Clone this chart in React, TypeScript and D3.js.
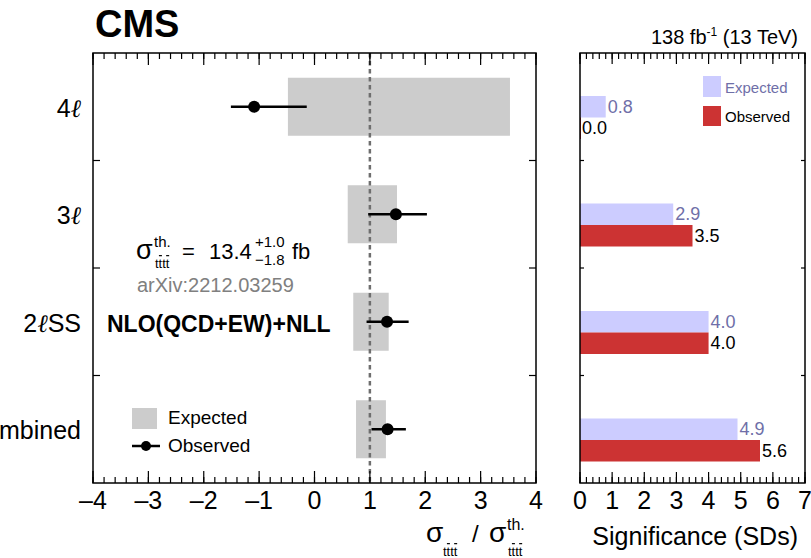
import React from "react";
import * as d3 from "d3";

// Channels shown on both panels
const categories = ["4ℓ", "3ℓ", "2ℓSS", "Combined"];

// Expected (Asimov) 68% interval of the signal-strength ratio
const expectedLow = [-0.48, 0.6, 0.7, 0.75];
const expectedHigh = [3.53, 1.49, 1.34, 1.29];

// Observed ratio with its uncertainty interval
const observed = [-1.09, 1.47, 1.31, 1.32];
const observedLow = [-1.51, 0.97, 0.94, 1.03];
const observedHigh = [-0.14, 2.03, 1.7, 1.65];

// Significances in standard deviations
const expectedSignificance = [0.8, 2.9, 4.0, 4.9];
const observedSignificance = [0.0, 3.5, 4.0, 5.6];

const ratioTicks = [-4, -3, -2, -1, 0, 1, 2, 3, 4];
const sigTicks = [0, 1, 2, 3, 4, 5, 6, 7];

const FONT = "'Liberation Sans', Arial, Helvetica, sans-serif";
const ELL_FONT = "'DejaVu Serif', serif";
const EXP_FILL = "#ccccff";
const EXP_TEXT = "#6f6fa8";
const OBS_FILL = "#cc3333";
const BOX_GRAY = "#cccccc";

const top = 53;
const bottom = 483;

const xL = d3.scaleLinear().domain([-4, 4]).range([93, 536]);
const xR = d3.scaleLinear().domain([0, 7]).range([580, 805]);
const y = d3.scaleBand<string>().domain(categories).range([top, bottom]).padding(0);

const fmt = d3.format(".1f");

// Render a channel name, drawing the lepton symbol in a script italic
function ChannelLabel({ name }: { name: string }) {
  const parts = name.split("ℓ");
  if (parts.length === 1) return <>{name}</>;
  return (
    <>
      {parts[0]}
      <tspan fontFamily={ELL_FONT} fontStyle="italic">
        ℓ
      </tspan>
      {parts[1]}
    </>
  );
}

function TTbar({ x, yb, fs }: { x: number; yb: number; fs: number }) {
  // "t tbar t tbar" subscript with overbars
  const w = 0.278 * fs;
  const barY = yb - fs * 0.95;
  return (
    <g>
      <text x={x} y={yb} fontSize={fs} fontFamily={FONT}>
        tttt
      </text>
      <line x1={x + w + 0.3} x2={x + 2 * w - 0.3} y1={barY} y2={barY} stroke="#000" strokeWidth={1.2} />
      <line x1={x + 3 * w + 0.3} x2={x + 4 * w - 0.3} y1={barY} y2={barY} stroke="#000" strokeWidth={1.2} />
    </g>
  );
}

function XTicks({
  scale,
  minorStep,
  majors,
  majorLen,
  minorLen,
}: {
  scale: d3.ScaleLinear<number, number>;
  minorStep: number;
  majors: number[];
  majorLen: number;
  minorLen: number;
}) {
  const [d0, d1] = scale.domain();
  const minors = d3.range(d0, d1 + 1e-9, minorStep);
  return (
    <g stroke="#000" strokeWidth={1.2}>
      {minors.map((v, i) => (
        <g key={"m" + i}>
          <line x1={scale(v)} x2={scale(v)} y1={bottom} y2={bottom - minorLen} />
          <line x1={scale(v)} x2={scale(v)} y1={top} y2={top + minorLen} />
        </g>
      ))}
      {majors.map((v) => (
        <g key={"M" + v}>
          <line x1={scale(v)} x2={scale(v)} y1={bottom} y2={bottom - majorLen} />
          <line x1={scale(v)} x2={scale(v)} y1={top} y2={top + majorLen} />
        </g>
      ))}
    </g>
  );
}

export default function App() {
  const bw = y.bandwidth();
  const boundaries = categories.slice(1).map((c) => y(c)!);
  const [l0, l1] = xL.range();
  const [r0, r1] = xR.range();

  return (
    <svg
      width={811}
      height={558}
      style={{ position: "absolute", left: 0, top: 0, background: "#fff" }}
      fontFamily={FONT}
    >
      <rect x={0} y={0} width={811} height={558} fill="#fff" />

      {/* CMS label and luminosity */}
      <text x={95} y={37} fontSize={38} fontWeight="bold">
        CMS
      </text>
      <text x={798} y={44} fontSize={20} textAnchor="end">
        138 fb<tspan dy={-8} fontSize={12}>-1</tspan>
        <tspan dy={8}> (13 TeV)</tspan>
      </text>

      {/* ---------- Left panel: ratio to theory ---------- */}
      {/* Expected intervals */}
      {categories.map((c, i) => {
        const mid = y(c)! + bw / 2;
        return (
          <rect
            key={"exp" + c}
            x={xL(expectedLow[i])}
            y={mid - 29}
            width={xL(expectedHigh[i]) - xL(expectedLow[i])}
            height={58}
            fill={BOX_GRAY}
          />
        );
      })}

      {/* Theory reference line */}
      <line
        x1={xL(1)}
        x2={xL(1)}
        y1={top}
        y2={bottom}
        stroke="#6e6e6e"
        strokeWidth={2.5}
        strokeDasharray="4.5,3.5"
      />

      {/* Observed points */}
      {categories.map((c, i) => {
        const mid = y(c)! + bw / 2;
        return (
          <g key={"obs" + c}>
            <line x1={xL(observedLow[i])} x2={xL(observedHigh[i])} y1={mid} y2={mid} stroke="#000" strokeWidth={2.5} />
            <circle cx={xL(observed[i])} cy={mid} r={6} fill="#000" />
          </g>
        );
      })}

      {/* Frame */}
      <rect x={l0} y={top} width={l1 - l0} height={bottom - top} fill="none" stroke="#000" strokeWidth={1.5} />
      <XTicks scale={xL} minorStep={0.2} majors={ratioTicks} majorLen={12} minorLen={6} />
      {boundaries.map((b) => (
        <g key={"lb" + b} stroke="#000" strokeWidth={1.2}>
          <line x1={l0} x2={l0 + 7} y1={b} y2={b} />
          <line x1={l1} x2={l1 - 7} y1={b} y2={b} />
        </g>
      ))}

      {/* Tick labels */}
      {ratioTicks.map((v) => (
        <text key={"tl" + v} x={xL(v)} y={509} fontSize={25} textAnchor="middle">
          {v < 0 ? "\u2013" + Math.abs(v) : String(v)}
        </text>
      ))}
      {categories.map((c) => (
        <text key={"cl" + c} x={81} y={y(c)! + bw / 2 + 10} fontSize={25} textAnchor="end">
          <ChannelLabel name={c} />
        </text>
      ))}

      {/* Theory annotation */}
      <text x={136} y={259} fontSize={27}>
        σ
      </text>
      <text x={154} y={247} fontSize={15}>
        th.
      </text>
      <TTbar x={155} yb={268} fs={13} />
      <text x={182} y={259} fontSize={22}>
        =
      </text>
      <text x={209} y={259} fontSize={22}>
        13.4
      </text>
      <text x={255} y={247} fontSize={15}>
        +1.0
      </text>
      <text x={255} y={265} fontSize={15}>
        {"\u22121.8"}
      </text>
      <text x={292} y={259} fontSize={22}>
        fb
      </text>
      <text x={137} y={292} fontSize={20} fill="#808080">
        arXiv:2212.03259
      </text>
      <text x={107} y={332} fontSize={23} fontWeight="bold">
        NLO(QCD+EW)+NLL
      </text>

      {/* Legend */}
      <rect x={132} y={408} width={25} height={21} fill={BOX_GRAY} />
      <text x={168} y={424} fontSize={19}>
        Expected
      </text>
      <line x1={132} x2={160} y1={446} y2={446} stroke="#000" strokeWidth={2.5} />
      <circle cx={146} cy={446} r={5} fill="#000" />
      <text x={168} y={452} fontSize={19}>
        Observed
      </text>

      {/* Axis title */}
      <text x={426} y={542} fontSize={28}>
        σ
      </text>
      <TTbar x={443} yb={556} fs={13} />
      <text x={472} y={542} fontSize={24}>
        /
      </text>
      <text x={489} y={542} fontSize={28}>
        σ
      </text>
      <text x={507} y={530} fontSize={16}>
        th.
      </text>
      <TTbar x={508} yb={556} fs={13} />

      {/* ---------- Right panel: significance ---------- */}
      {categories.map((c, i) => {
        const mid = y(c)! + bw / 2;
        const h = bw * 0.2;
        return (
          <g key={"sig" + c}>
            <rect x={xR(0)} y={mid - h / 2} width={xR(expectedSignificance[i]) - xR(0)} height={h} fill={EXP_FILL} />
            <rect
              x={xR(0)}
              y={mid + h / 2}
              width={Math.max(xR(observedSignificance[i]) - xR(0), 1)}
              height={h}
              fill={OBS_FILL}
            />
            <text x={xR(expectedSignificance[i]) + 2} y={mid + 6} fontSize={18} fill={EXP_TEXT}>
              {fmt(expectedSignificance[i])}
            </text>
            <text x={xR(observedSignificance[i]) + 2} y={mid + h + 6} fontSize={18} fill="#000">
              {fmt(observedSignificance[i])}
            </text>
          </g>
        );
      })}

      <rect x={r0} y={top} width={r1 - r0} height={bottom - top} fill="none" stroke="#000" strokeWidth={1.5} />
      <XTicks scale={xR} minorStep={0.2} majors={sigTicks} majorLen={11} minorLen={6} />
      {boundaries.map((b) => (
        <g key={"rb" + b} stroke="#000" strokeWidth={1.2}>
          <line x1={r0} x2={r0 + 4} y1={b} y2={b} />
          <line x1={r1} x2={r1 - 4} y1={b} y2={b} />
        </g>
      ))}
      {sigTicks.map((v) => (
        <text key={"st" + v} x={xR(v)} y={509} fontSize={25} textAnchor="middle">
          {v}
        </text>
      ))}
      <text x={798} y={545} fontSize={25} textAnchor="end">
        Significance (SDs)
      </text>

      {/* Legend */}
      <rect x={703} y={76} width={18} height={21} fill={EXP_FILL} />
      <text x={725} y={93} fontSize={15} fill={EXP_TEXT}>
        Expected
      </text>
      <rect x={703} y={106} width={18} height={20} fill={OBS_FILL} />
      <text x={725} y={122} fontSize={15}>
        Observed
      </text>
    </svg>
  );
}
